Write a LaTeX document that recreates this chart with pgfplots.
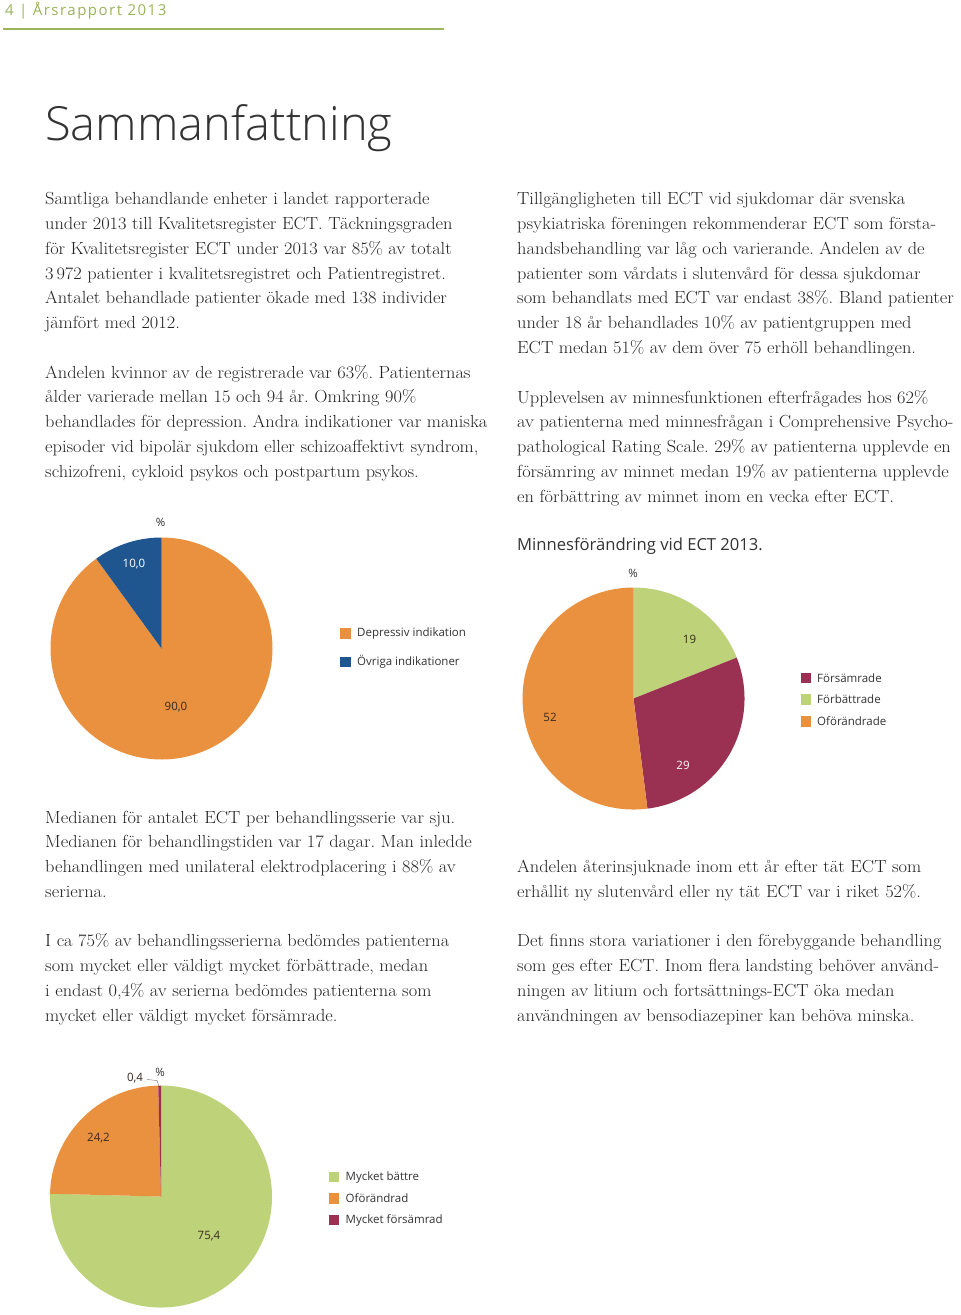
\documentclass[border=0pt]{standalone}
\usepackage{fontspec}
\usepackage{pgfplots}
\pgfplotsset{compat=1.18}
\setsansfont{Open Sans}
\IfFontExistsTF{Open Sans Light}{\newfontfamily\titlefont{Open Sans Light}}{\newfontfamily\titlefont{Open Sans}}
\newfontfamily\bodyfont{Latin Modern Roman}[FakeStretch=1.05]
\frenchspacing
\definecolor{cOrange}{HTML}{E9913F}
\definecolor{cBlue}{HTML}{1F5690}
\definecolor{cGreen}{HTML}{BDD279}
\definecolor{cRed}{HTML}{9A3152}
\definecolor{hdr}{HTML}{9BB45B}
\definecolor{txt}{HTML}{333333}
\definecolor{btxt}{HTML}{222222}
\definecolor{labtxt}{HTML}{3A2A1E}
\newcommand\body{\bodyfont\fontsize{17.5bp}{24.75bp}\selectfont}
\newcommand\lab{\sffamily\fontsize{11.5bp}{13bp}\selectfont}
\newcommand\Lx[3]{\node[anchor=base west,inner sep=0,font=\body,text=btxt] at ({#1},{#2+2}) {#3};}
% pie slice: start angle (deg), share in percent, colour -- drawn clockwise
\newcommand\slice[3]{%
  \pgfmathsetmacro\sA{#1}\pgfmathsetmacro\sB{#1-3.6*#2}%
  \edef\doslice{\noexpand\addplot[draw=none,fill=#3,domain=\sB:\sA,samples=120,variable=\noexpand\t] ({cos(\noexpand\t)},{sin(\noexpand\t)}) -- (axis cs:0,0) -- cycle;}%
  \doslice}
\pgfplotsset{pie/.style={anchor=center,hide axis,x=111bp,y=111bp,xmin=-1,xmax=1,ymin=-1,ymax=1,clip=false}}
\begin{document}
\begin{tikzpicture}[x=1bp,y=-1bp]
\useasboundingbox (0,0) rectangle (960,1315);
\fill[white] (0,0) rectangle (960,1315);
% header
\node[anchor=base west,inner sep=0,text=hdr,font=\sffamily\fontsize{15bp}{16bp}\selectfont\addfontfeatures{LetterSpace=10}] at (5,16) {4 | Årsrapport 2013};
\draw[hdr,line width=1.2bp] (3,29) -- (444,29);
\node[anchor=base west,inner sep=0,text=txt,font=\titlefont\fontsize{47bp}{50bp}\selectfont] at (45,141) {Sammanfattning};
% left column
\Lx{45}{203}{Samtliga behandlande enheter i landet rapporterade}
\Lx{45}{227.75}{under 2013 till Kvalitetsregister ECT. Täckningsgraden}
\Lx{45}{252.5}{för Kvalitetsregister ECT under 2013 var 85\% av totalt}
\Lx{45}{277.25}{3\,972 patienter i kvalitetsregistret och Patientregistret.}
\Lx{45}{302}{Antalet behandlade patienter ökade med 138 individer}
\Lx{45}{326.75}{jämfört med 2012.}
\Lx{45}{376}{Andelen kvinnor av de registrerade var 63\%. Patienternas}
\Lx{45}{400.75}{ålder varierade mellan 15 och 94 år. Omkring 90\%}
\Lx{45}{425.5}{behandlades för depression. Andra indikationer var maniska}
\Lx{45}{450.25}{episoder vid bipolär sjukdom eller schizoaffektivt syndrom,}
\Lx{45}{475}{schizofreni, cykloid psykos och postpartum psykos.}
% right column
\Lx{517}{203}{Tillgängligheten till ECT vid sjukdomar där svenska}
\Lx{517}{227.75}{psykiatriska föreningen rekommenderar ECT som första-}
\Lx{517}{252.5}{handsbehandling var låg och varierande. Andelen av de}
\Lx{517}{277.25}{patienter som vårdats i slutenvård för dessa sjukdomar}
\Lx{517}{302}{som behandlats med ECT var endast 38\%. Bland patienter}
\Lx{517}{326.75}{under 18 år behandlades 10\% av patientgruppen med}
\Lx{517}{351.5}{ECT medan 51\% av dem över 75 erhöll behandlingen.}
\Lx{517}{401}{Upplevelsen av minnesfunktionen efterfrågades hos 62\%}
\Lx{517}{425.75}{av patienterna med minnesfrågan i Comprehensive Psycho-}
\Lx{517}{450.5}{pathological Rating Scale. 29\% av patienterna upplevde en}
\Lx{517}{475.25}{försämring av minnet medan 19\% av patienterna upplevde}
\Lx{517}{500}{en förbättring av minnet inom en vecka efter ECT.}
\node[anchor=base west,inner sep=0,text=txt,font=\sffamily\fontsize{16.6bp}{18bp}\selectfont] at (517,550) {Minnesförändring vid ECT 2013.};
% bottom text
\Lx{45}{821}{Medianen för antalet ECT per behandlingsserie var sju.}
\Lx{45}{845.75}{Medianen för behandlingstiden var 17 dagar. Man inledde}
\Lx{45}{870.5}{behandlingen med unilateral elektrodplacering i 88\% av}
\Lx{45}{895.25}{serierna.}
\Lx{45}{944.75}{I ca 75\% av behandlingsserierna bedömdes patienterna}
\Lx{45}{969.5}{som mycket eller väldigt mycket förbättrade, medan}
\Lx{45}{994.25}{i endast 0,4\% av serierna bedömdes patienterna som}
\Lx{45}{1019}{mycket eller väldigt mycket försämrade.}
\Lx{517}{870.5}{Andelen återinsjuknade inom ett år efter tät ECT som}
\Lx{517}{895.25}{erhållit ny slutenvård eller ny tät ECT var i riket 52\%.}
\Lx{517}{944.75}{Det finns stora variationer i den förebyggande behandling}
\Lx{517}{969.5}{som ges efter ECT. Inom flera landsting behöver använd-}
\Lx{517}{994.25}{ningen av litium och fortsättnings-ECT öka medan}
\Lx{517}{1019}{användningen av bensodiazepiner kan behöva minska.}
% ---- pie 1: indication
\begin{axis}[pie,at={(161.5bp,-648.5bp)}]
\slice{90}{90.0}{cOrange}
\slice{-234}{10.0}{cBlue}
\end{axis}
\node[font=\lab,text=txt] at (160.5,522) {\%};
\node[font=\lab,text=white] at (134,564) {10,0};
\node[font=\lab,text=labtxt] at (176,707) {90,0};
\fill[cOrange] (340,628) rectangle (350.5,638.5);
\node[anchor=west,inner sep=0,font=\lab,text=txt] at (357,633.5) {Depressiv indikation};
\fill[cBlue] (340,656.5) rectangle (350.5,667);
\node[anchor=west,inner sep=0,font=\lab,text=txt] at (357,662) {Övriga indikationer};
% ---- pie 2: memory change
\begin{axis}[pie,at={(633.5bp,-698.5bp)}]
\slice{90}{19}{cGreen}
\slice{21.6}{29}{cRed}
\slice{-82.8}{52}{cOrange}
\end{axis}
\node[font=\lab,text=txt] at (633,573) {\%};
\node[font=\lab,text=labtxt] at (689.5,639.5) {19};
\node[font=\lab,text=white] at (683,765.5) {29};
\node[font=\lab,text=labtxt] at (550,717.5) {52};
\fill[cRed] (800.5,672.5) rectangle (811,683);
\node[anchor=west,inner sep=0,font=\lab,text=txt] at (817,678) {Försämrade};
\fill[cGreen] (800.5,694) rectangle (811,704.5);
\node[anchor=west,inner sep=0,font=\lab,text=txt] at (817,699.5) {Förbättrade};
\fill[cOrange] (800.5,716) rectangle (811,726.5);
\node[anchor=west,inner sep=0,font=\lab,text=txt] at (817,721.5) {Oförändrade};
% ---- pie 3: CGI
\begin{axis}[pie,at={(161bp,-1196.5bp)}]
\slice{90}{75.4}{cGreen}
\slice{-181.44}{24.2}{cOrange}
\slice{-268.56}{0.4}{cRed}
\end{axis}
\node[font=\lab,text=txt] at (160,1072) {\%};
\node[font=\lab,text=labtxt] at (135,1078.5) {0,4};
\draw[gray,line width=0.5bp] (147,1079.5) -- (157,1080.5) -- (158.5,1085);
\node[font=\lab,text=labtxt] at (98.5,1138.5) {24,2};
\node[font=\lab,text=labtxt] at (209,1236.5) {75,4};
\fill[cGreen] (328.5,1171.5) rectangle (339,1182);
\node[anchor=west,inner sep=0,font=\lab,text=txt] at (345.5,1177) {Mycket bättre};
\fill[cOrange] (328.5,1193) rectangle (339,1203.5);
\node[anchor=west,inner sep=0,font=\lab,text=txt] at (345.5,1198.5) {Oförändrad};
\fill[cRed] (328.5,1214.5) rectangle (339,1225);
\node[anchor=west,inner sep=0,font=\lab,text=txt] at (345.5,1220) {Mycket försämrad};
\end{tikzpicture}
\end{document}
